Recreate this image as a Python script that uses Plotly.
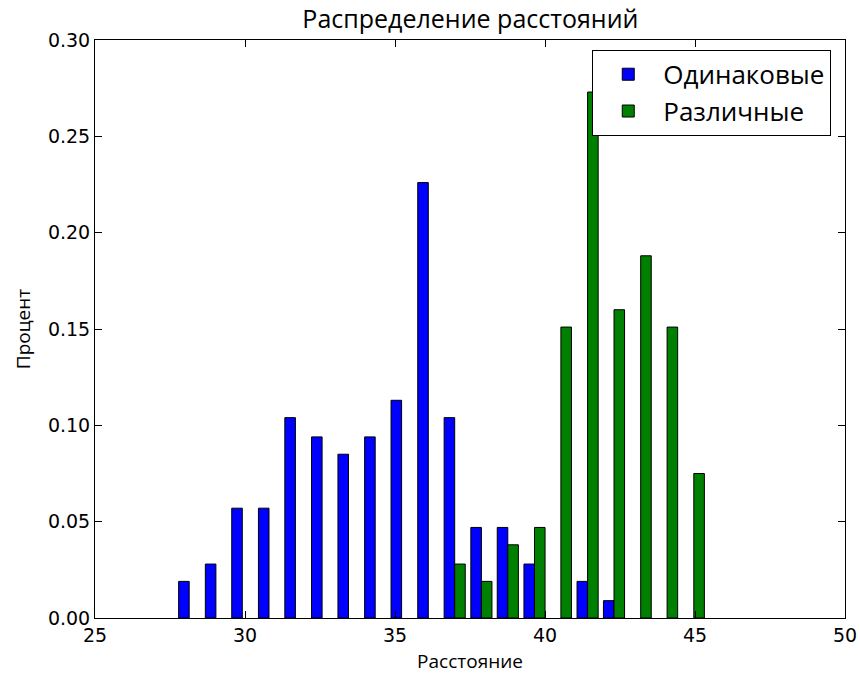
import plotly.graph_objects as go

# Bin centers (distance)
bin_centers = [28.14, 29.03, 29.91, 30.80, 31.68, 32.57, 33.45, 34.34, 35.22, 36.11,
               36.99, 37.88, 38.76, 39.65, 40.53, 41.42, 42.30, 43.19, 44.07, 44.96]

# Series values (share)
same_values = [0.019, 0.028, 0.057, 0.057, 0.104, 0.094, 0.085, 0.094, 0.113, 0.226,
               0.104, 0.047, 0.047, 0.028, 0.0, 0.019, 0.009, 0.0, 0.0, 0.0]
diff_values = [0.0, 0.0, 0.0, 0.0, 0.0, 0.0, 0.0, 0.0, 0.0, 0.0,
               0.028, 0.019, 0.038, 0.047, 0.151, 0.273, 0.160, 0.188, 0.151, 0.075]

series_names = ["Одинаковые", "Различные"]
x_ticks = [25, 30, 35, 40, 45, 50]
y_ticks = [0.0, 0.05, 0.10, 0.15, 0.20, 0.25, 0.30]


def nonzero(vals):
    return [v if v else None for v in vals]


fig = go.Figure()
fig.add_trace(go.Bar(x=bin_centers, y=nonzero(same_values), name=series_names[0],
                     marker=dict(color="#0000ff", line=dict(color="black", width=1))))
fig.add_trace(go.Bar(x=bin_centers, y=nonzero(diff_values), name=series_names[1],
                     marker=dict(color="#008000", line=dict(color="black", width=1))))

tick_font = dict(family="DejaVu Sans", size=19, color="black")

fig.update_layout(
    width=860, height=677,
    margin=dict(l=95, r=15, t=40, b=59),
    paper_bgcolor="white", plot_bgcolor="white",
    barmode="group", bargap=0.2, bargroupgap=0.0,
    title=dict(text="Распределение расстояний", x=0.547, xanchor="center",
               y=0.971, yanchor="middle", font=dict(family="Open Sans", size=25, color="black")),
    legend=dict(x=0.663, y=0.983, xanchor="left", yanchor="top",
                bgcolor="white", bordercolor="black", borderwidth=1,
                font=dict(family="Open Sans", size=26, color="black"),
                itemwidth=60, tracegroupgap=0),
    showlegend=True,
)
fig.update_xaxes(range=[25, 50], tickvals=x_ticks, ticktext=[str(v) for v in x_ticks],
                 ticks="inside", ticklen=7, tickcolor="black", showline=True, linecolor="black",
                 linewidth=1, mirror="ticks", showgrid=False, zeroline=False, tickfont=tick_font,
                 automargin=False,
                 title=dict(text="Расстояние", font=dict(family="Open Sans", size=19, color="black"),
                            standoff=9))
fig.update_yaxes(range=[0, 0.30], tickvals=y_ticks, ticktext=[f"{v:.2f}" for v in y_ticks],
                 ticks="inside", ticklen=7, tickcolor="black", showline=True, linecolor="black",
                 linewidth=1, mirror="ticks", showgrid=False, zeroline=False, tickfont=tick_font,
                 automargin=False,
                 title=dict(text="Процент", font=dict(family="Open Sans", size=19, color="black"),
                            standoff=12))

fig.write_html("out.html", config={"displayModeBar": False},
               post_script="document.body.style.margin='0';document.body.style.overflow='hidden';")
